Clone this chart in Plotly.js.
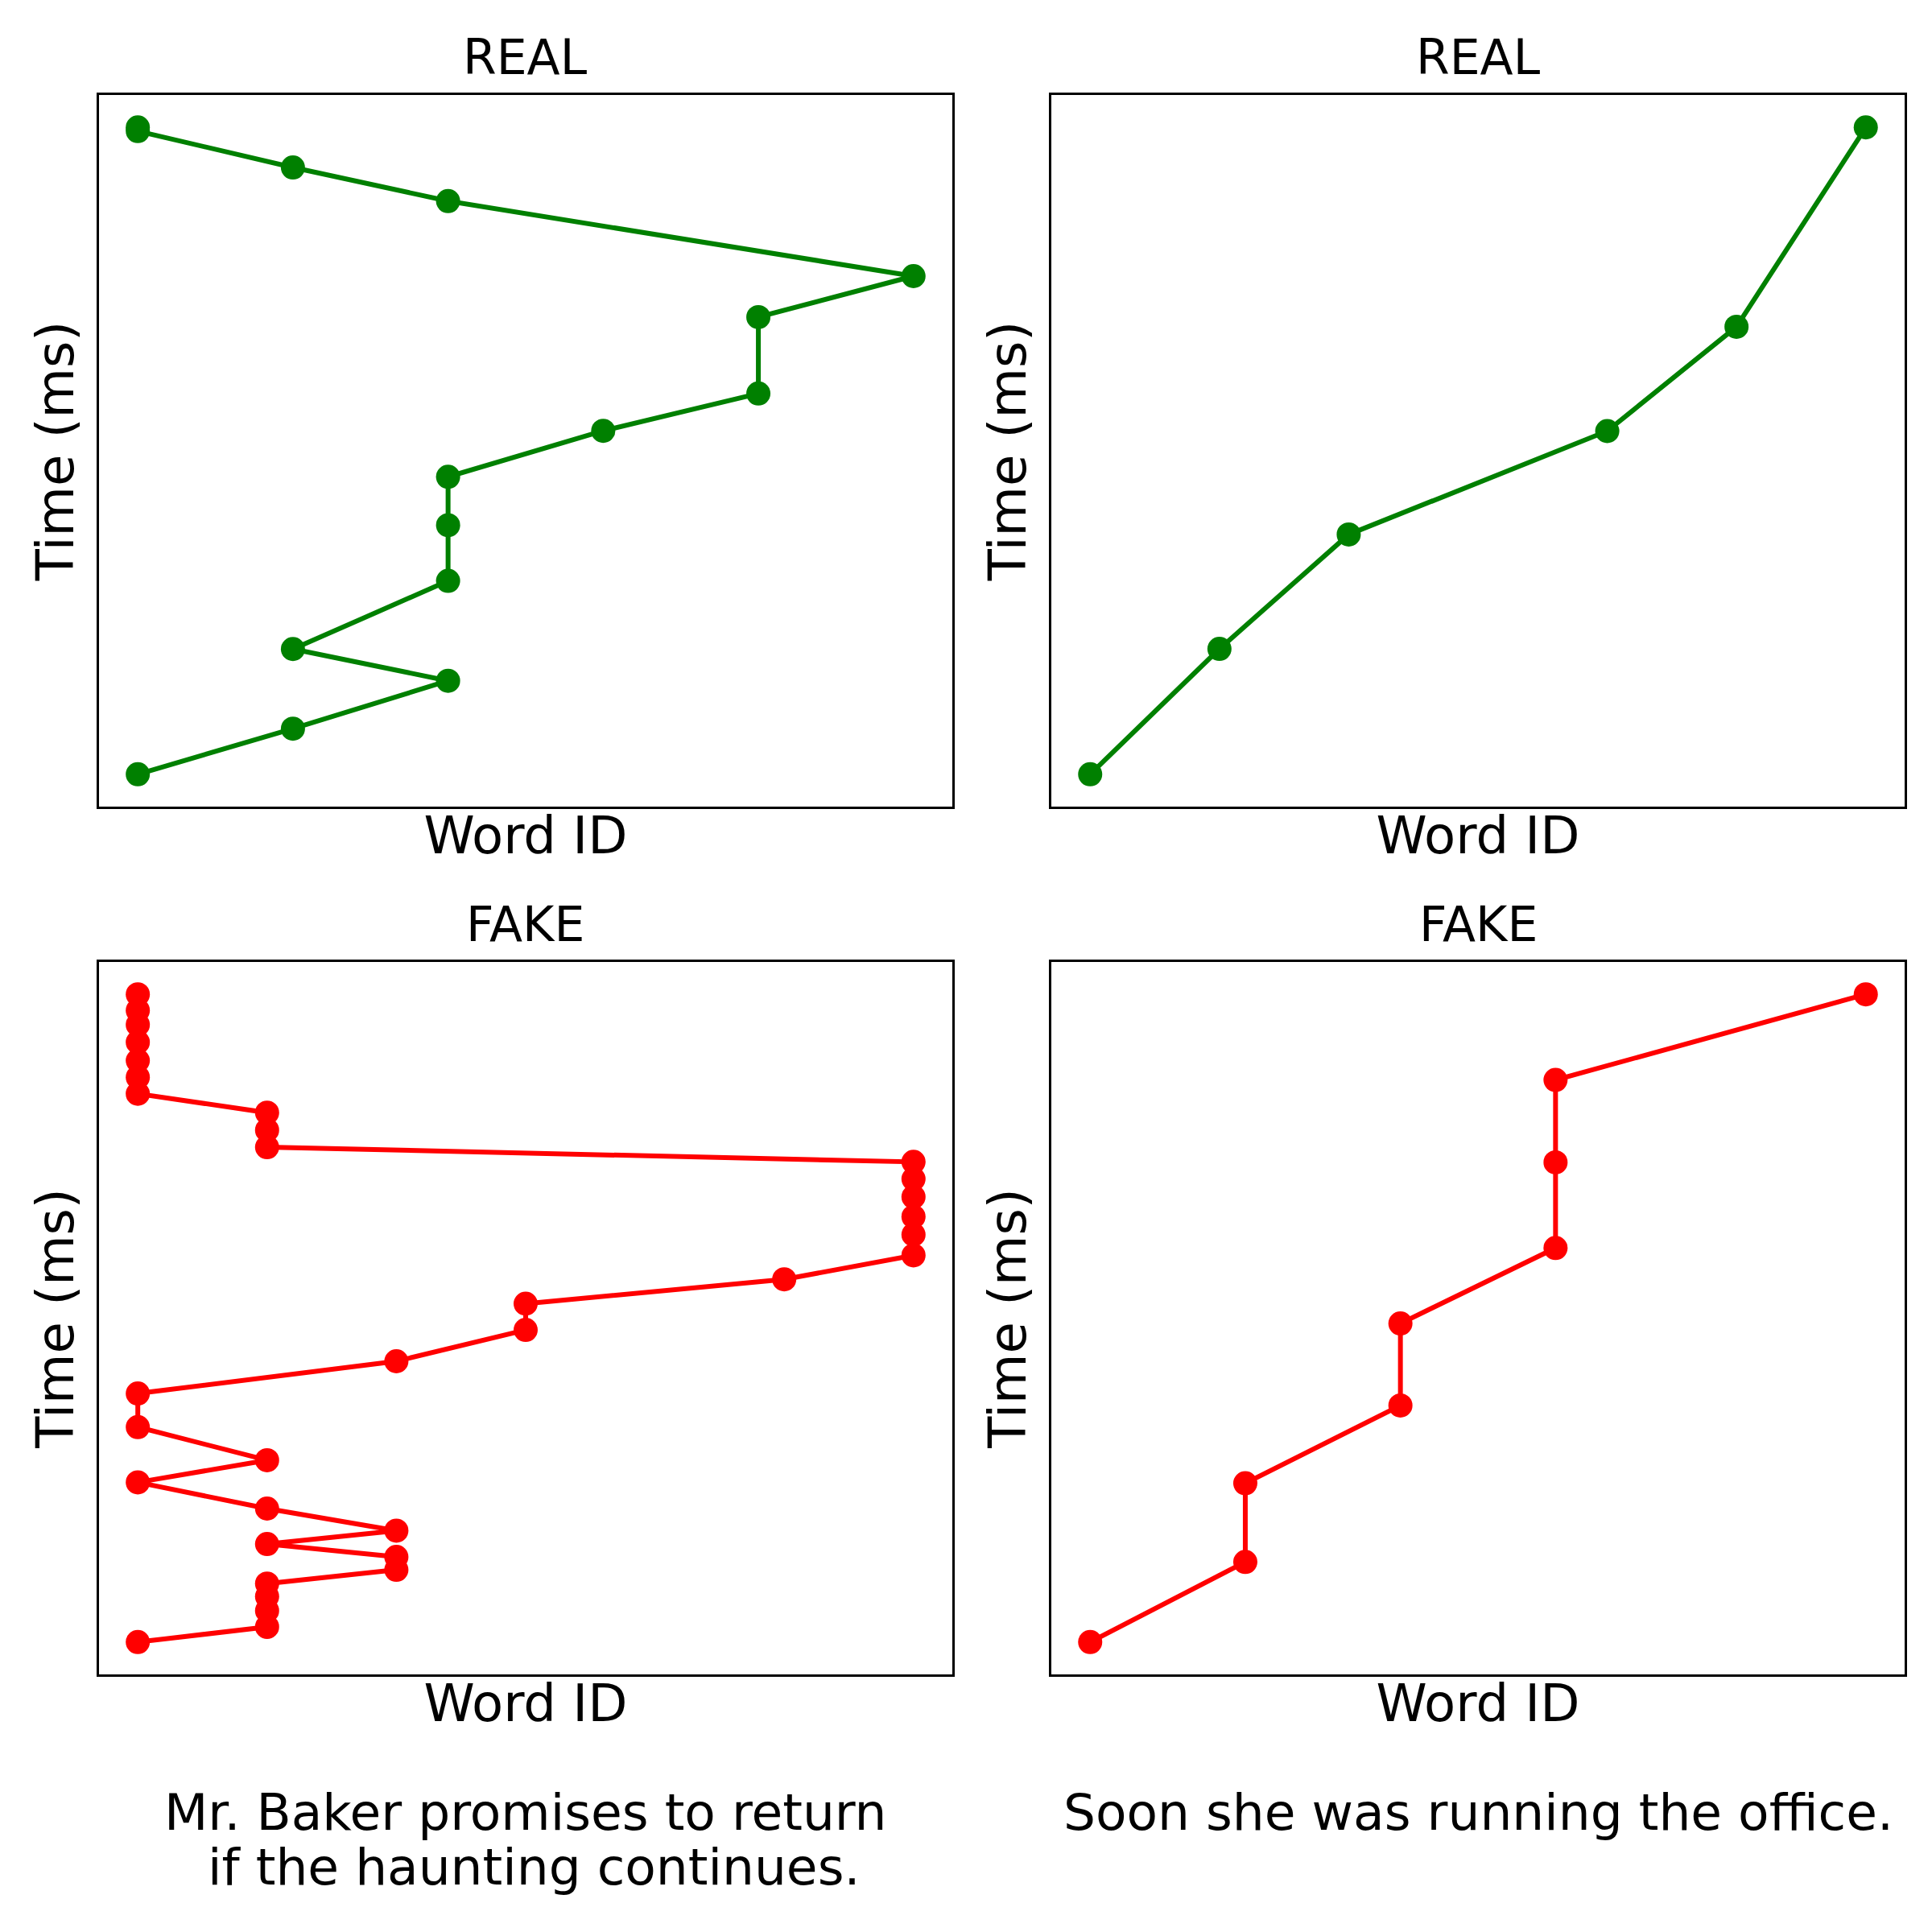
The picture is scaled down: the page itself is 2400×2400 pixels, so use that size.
<!DOCTYPE html>
<html>
<head>
<meta charset="utf-8">
<script src="https://cdn.plot.ly/plotly-3.0.1.min.js"></script>
<style>
  html, body { margin: 0; padding: 0; background: #fff; }
  #chart { width: 2400px; height: 2400px; }
</style>
</head>
<body>
<div id="chart"></div>
<script>

// sentence 1 : "Mr. Baker promises to return if the haunting continues."
const real1_word = [0, 1, 2, 1, 2, 2, 2, 3, 4, 4, 5, 2, 1, 0, 0];
const real1_time = [76, 175, 279, 348, 496, 617, 722, 822, 903, 1069, 1158, 1321, 1394, 1473, 1481];

const fake1_word = [0, 1, 1, 1, 1, 2, 2, 1, 2, 1, 0, 1, 0, 0, 2, 3, 3, 5,
                    6, 6, 6, 6, 6, 6, 1, 1, 1, 0, 0, 0, 0, 0, 0, 0];
const fake1_time = [75, 108, 143, 174, 202, 232, 260, 288, 317, 365, 422, 470, 542, 615, 685, 753, 810, 863,
                    915, 960, 999, 1042, 1081, 1118, 1150, 1187, 1225, 1266, 1302, 1338, 1378, 1416, 1447, 1482];

// sentence 2 : "Soon she was running the office."
const real2_word = [0, 1, 2, 4, 5, 6];
const real2_time = [76, 349, 598, 823, 1050, 1484];

const fake2_word = [0, 1, 1, 2, 2, 3, 3, 3, 5];
const fake2_time = [75, 249, 420, 589, 767, 931, 1117, 1296, 1482];

const panel_titles = ['REAL', 'REAL', 'FAKE', 'FAKE'];
// 各列の下に置く文（行ごと）
const captions = [
  ['Mr. Baker promises to return', '\u00a0if the haunting continues.'],
  ['Soon she was running the office.']
];

const FONT = 'DejaVu Sans, Liberation Sans, sans-serif';

// matplotlib風の5%マージン
function pad_range(arr) {
  const lo = Math.min(...arr);
  const hi = Math.max(...arr);
  const m = (hi - lo) * 0.05;
  return [lo - m, hi + m];
}

function make_trace(x, y, color, n) {
  return {
    x: x,
    y: y,
    mode: 'lines+markers',
    line: { color: color, width: 6 },
    marker: { color: color, size: 30 },
    xaxis: 'x' + (n === 1 ? '' : n),
    yaxis: 'y' + (n === 1 ? '' : n),
    showlegend: false,
    hoverinfo: 'skip'
  };
}

const data = [
  make_trace(real1_word, real1_time, '#008000', 1),
  make_trace(real2_word, real2_time, '#008000', 2),
  make_trace(fake1_word, fake1_time, '#ff0000', 3),
  make_trace(fake2_word, fake2_time, '#ff0000', 4)
];

const col_dom = [[0.05125, 0.4929], [0.5442, 0.9858]];
const row_dom = [[0.5825, 0.9508], [0.1333, 0.5021]];

function make_xaxis(dom, anchor, words) {
  return {
    domain: dom,
    anchor: anchor,
    range: pad_range(words),
    showline: true, mirror: true, linecolor: '#000', linewidth: 3,
    showgrid: false, zeroline: false, showticklabels: false, ticks: '',
    title: { text: 'Word ID', font: { family: FONT, size: 64, color: '#000' }, standoff: 12 }
  };
}

function make_yaxis(dom, anchor, times) {
  return {
    domain: dom,
    anchor: anchor,
    range: pad_range(times),
    showline: true, mirror: true, linecolor: '#000', linewidth: 3,
    showgrid: false, zeroline: false, showticklabels: false, ticks: '',
    title: { text: 'Time (ms)', font: { family: FONT, size: 64, color: '#000' }, standoff: 8 }
  };
}

const annotations = [];
const cells = [[0, 0], [1, 0], [0, 1], [1, 1]];
cells.forEach(function (c, i) {
  annotations.push({
    text: panel_titles[i],
    xref: 'paper', yref: 'paper',
    x: (col_dom[c[0]][0] + col_dom[c[0]][1]) / 2,
    y: row_dom[c[1]][1],
    xanchor: 'center', yanchor: 'bottom', yshift: 10,
    showarrow: false,
    font: { family: FONT, size: 60, color: '#000' }
  });
});
captions.forEach(function (lines, i) {
  lines.forEach(function (t, j) {
    annotations.push({
      text: t,
      xref: 'paper', yref: 'paper',
      x: (col_dom[i][0] + col_dom[i][1]) / 2,
      y: 0.078 - j * 0.0285,
      xanchor: 'center', yanchor: 'top',
      showarrow: false,
      font: { family: FONT, size: 63, color: '#000' }
    });
  });
});

const layout = {
  width: 2400,
  height: 2400,
  margin: { l: 0, r: 0, t: 0, b: 0 },
  paper_bgcolor: '#fff',
  plot_bgcolor: '#fff',
  font: { family: FONT, color: '#000' },
  xaxis: make_xaxis(col_dom[0], 'y', real1_word),
  yaxis: make_yaxis(row_dom[0], 'x', real1_time),
  xaxis2: make_xaxis(col_dom[1], 'y2', real2_word),
  yaxis2: make_yaxis(row_dom[0], 'x2', real2_time),
  xaxis3: make_xaxis(col_dom[0], 'y3', fake1_word),
  yaxis3: make_yaxis(row_dom[1], 'x3', fake1_time),
  xaxis4: make_xaxis(col_dom[1], 'y4', fake2_word),
  yaxis4: make_yaxis(row_dom[1], 'x4', fake2_time),
  annotations: annotations
};

const config = { staticPlot: true, displayModeBar: false };

Plotly.newPlot('chart', data, layout, config);

</script>
</body>
</html>
